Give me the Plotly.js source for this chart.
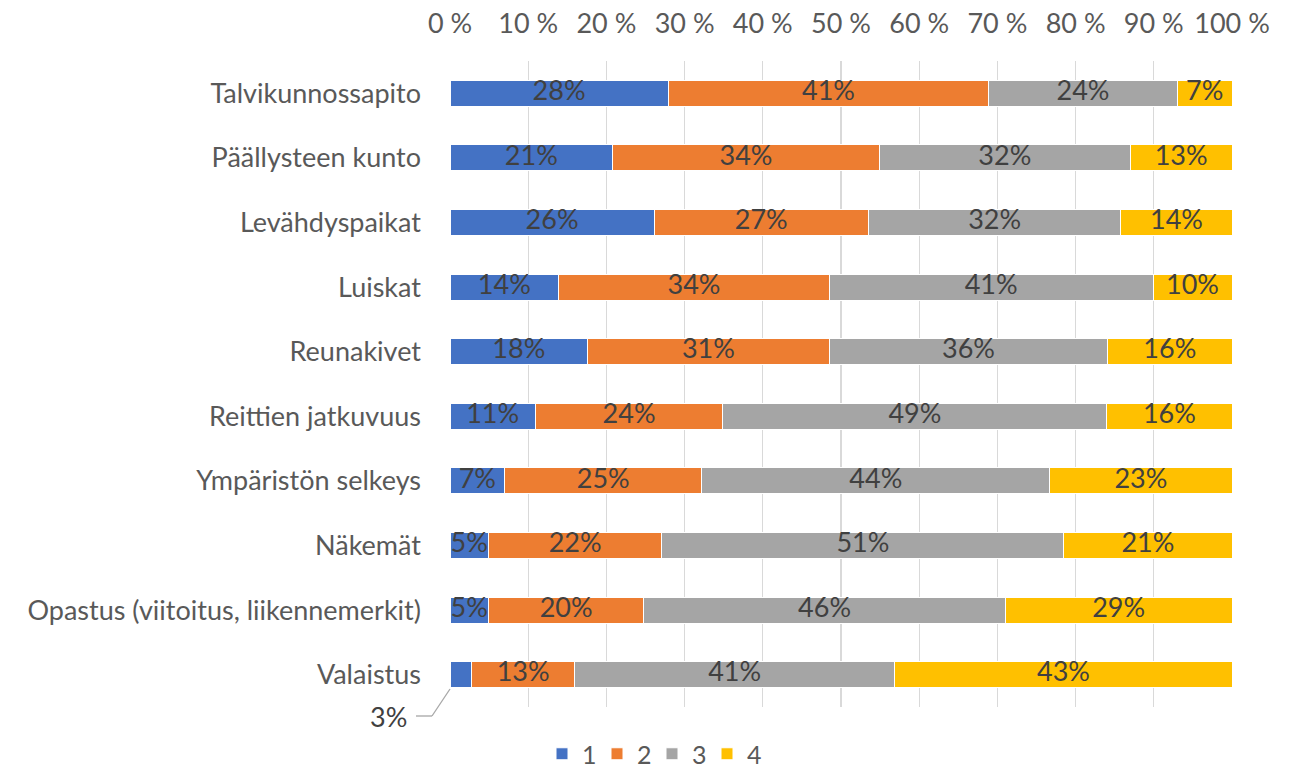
<!DOCTYPE html>
<html>
<head>
<meta charset="utf-8">
<script src="https://cdn.plot.ly/plotly-3.0.1.min.js"></script>
<style>html,body{margin:0;padding:0;background:#fff;}#chart{width:1294px;height:774px;}</style>
</head>
<body>
<div id="chart"></div>
<script>
const categories = ["Talvikunnossapito","Päällysteen kunto","Levähdyspaikat","Luiskat","Reunakivet","Reittien jatkuvuus","Ympäristön selkeys","Näkemät","Opastus (viitoitus, liikennemerkit)","Valaistus"];
const seriesNames = ["1","2","3","4"];
const s1 = [27.9,20.8,26.1,13.9,17.6,10.9,7.0,4.9,4.9,2.8];
const s2 = [41.0,34.1,27.4,34.6,30.9,24.0,25.2,22.2,19.9,13.1];
const s3 = [24.1,32.1,32.3,41.4,35.6,49.1,44.5,51.4,46.2,41.0];
const s4 = [7.0,13.0,14.2,10.1,15.9,16.0,23.3,21.5,29.0,43.1];
const l1 = ["28%","21%","26%","14%","18%","11%","7%","5%","5%",""];
const l2 = ["41%","34%","27%","34%","31%","24%","25%","22%","20%","13%"];
const l3 = ["24%","32%","32%","41%","36%","49%","44%","51%","46%","41%"];
const l4 = ["7%","13%","14%","10%","16%","16%","23%","21%","29%","43%"];
const outsideLabel = "3%";
const xTicks = [0,10,20,30,40,50,60,70,80,90,100];
const colors = ["#4472C4","#ED7D31","#A5A5A5","#FFC000"];

const values = [s1,s2,s3,s4];
const labels = [l1,l2,l3,l4];
const FONT = "Lato, 'Liberation Sans', sans-serif";
const FS = 27;
const traces = [];
values.forEach((v,i)=>{
  traces.push({type:'bar',orientation:'h',name:seriesNames[i],y:categories,x:v,
    marker:{color:colors[i],line:{color:'#ffffff',width:1}},hoverinfo:'skip'});
});
values.forEach((v,i)=>{
  const mids = v.map((val,k)=>{
    let start=0; for(let j=0;j<i;j++) start+=values[j][k];
    return start+val/2;
  });
  traces.push({type:'scatter',mode:'text',x:mids,y:categories,text:labels[i],
    textfont:{family:FONT,size:FS,color:'#404040'},showlegend:false,hoverinfo:'skip',cliponaxis:false});
});

const L=450,R=62,T=61,B=67,W=1294,H=774;
const pw=W-L-R, ph=H-T-B;
const px=(x)=>(x-L)/pw, py=(y)=>(H-B-y)/ph;

const layout = {
  width:W,height:H,
  margin:{l:L,r:R,t:T,b:B,pad:0,autoexpand:false},
  paper_bgcolor:'#fff',plot_bgcolor:'#fff',
  barmode:'stack',bargap:0.6,
  font:{family:FONT,color:'#595959',size:FS},
  xaxis:{side:'top',range:[0,100],tickvals:xTicks,ticktext:xTicks.map(t=>t+' %'),
    showgrid:true,gridcolor:'#D9D9D9',gridwidth:1.3,zeroline:false,showline:false,ticks:'',
    ticklabelstandoff:22,tickfont:{size:FS,color:'#595959'},fixedrange:true,automargin:false},
  yaxis:{type:'category',range:[9.5,-0.5],categoryorder:'array',categoryarray:categories,
    showgrid:false,zeroline:false,showline:false,ticks:'',ticklabelstandoff:28,
    tickfont:{size:FS,color:'#595959'},fixedrange:true,automargin:false},
  showlegend:true,
  legend:{orientation:'h',x:px(542),y:py(754),xanchor:'left',yanchor:'middle',
    font:{size:25,color:'#595959'},itemwidth:30,entrywidth:10,traceorder:'normal',
    bgcolor:'rgba(0,0,0,0)',tracegroupgap:0},
  shapes:[
    {type:'line',xref:'paper',yref:'paper',x0:px(450),y0:py(689),x1:px(432),y1:py(716),line:{color:'#A6A6A6',width:1.3}},
    {type:'line',xref:'paper',yref:'paper',x0:px(432),y0:py(716),x1:px(416),y1:py(716),line:{color:'#A6A6A6',width:1.3}}
  ],
  annotations:[
    {xref:'paper',yref:'paper',x:px(409),y:py(716),xanchor:'right',yanchor:'middle',text:outsideLabel,showarrow:false,
     font:{family:FONT,size:FS,color:'#404040'}}
  ]
};
Plotly.newPlot('chart',traces,layout,{displayModeBar:false,staticPlot:true});
</script>
</body>
</html>
